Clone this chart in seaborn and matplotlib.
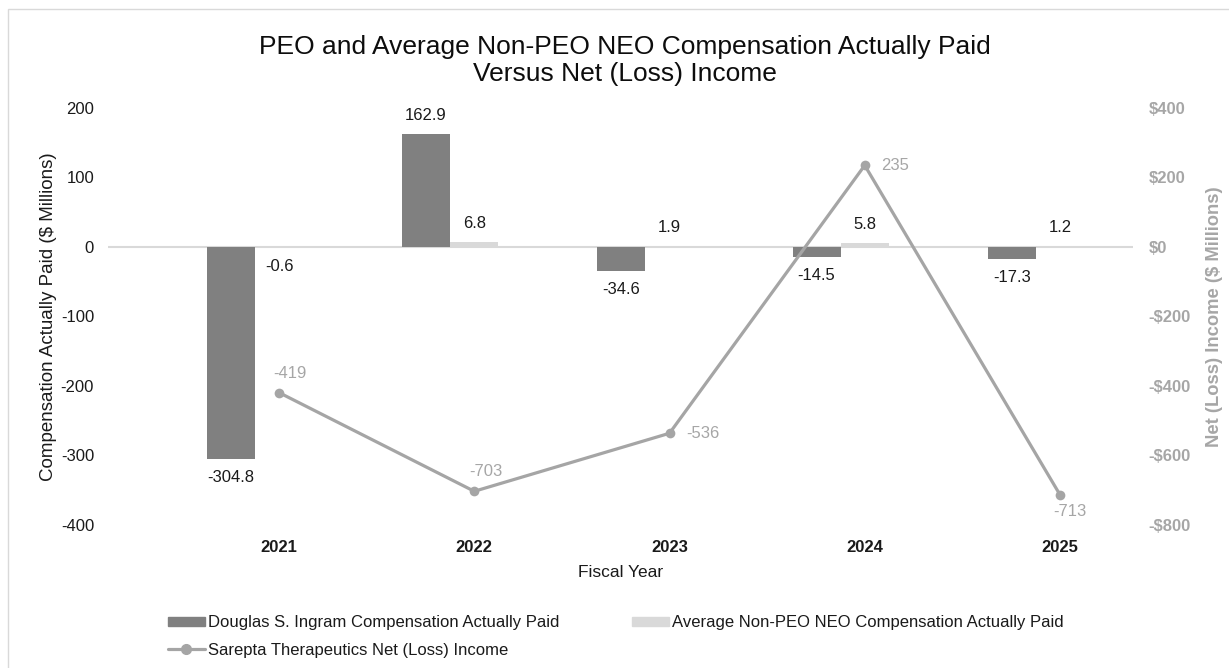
import numpy as np
import pandas as pd
import matplotlib
matplotlib.use('Agg')
import matplotlib.pyplot as plt
from matplotlib.patches import Patch, Rectangle
from matplotlib.lines import Line2D
import seaborn as sns

# data
years = ['2021', '2022', '2023', '2024', '2025']
peo_cap = [-304.8, 162.9, -34.6, -14.5, -17.3]
neo_cap = [-0.6, 6.8, 1.9, 5.8, 1.2]
net_income = [-419, -703, -536, 235, -713]
income_label_pos = ['above', 'above', 'right', 'right', 'below']

peo_name = 'Douglas S. Ingram Compensation Actually Paid'
neo_name = 'Average Non-PEO NEO Compensation Actually Paid'
line_name = 'Sarepta Therapeutics Net (Loss) Income'

dark = '#808080'
light = '#D9D9D9'
line_col = '#A5A5A5'
label_gray = '#A6A6A6'

sns.set_theme(style='white')
plt.rcParams['font.family'] = ['Liberation Sans', 'DejaVu Sans']
plt.rcParams['axes.unicode_minus'] = False

df = pd.DataFrame({
    'year': years * 2,
    'series': [peo_name] * len(years) + [neo_name] * len(years),
    'value': peo_cap + neo_cap,
})

fig = plt.figure(figsize=(12.29, 6.68), dpi=100)
ax = fig.add_axes([108 / 1229, 1 - 525 / 668, (1133 - 108) / 1229, (525 - 108) / 668])

# third hue slot is the line series' place in the cluster (Excel layout)
sns.barplot(data=df, x='year', y='value', hue='series',
            hue_order=[peo_name, neo_name, line_name],
            palette={peo_name: dark, neo_name: light, line_name: line_col},
            width=0.74, linewidth=0, legend=False, ax=ax, zorder=2)

ax.axhline(0, color=light, lw=1.5, zorder=1)

for cont in ax.containers:
    ax.bar_label(cont, fmt='%.1f', padding=8, fontsize=12, color='#1a1a1a')

ax.set_ylim(-400, 200)
ax.set_yticks(np.arange(-400, 201, 100))
ax.set_xlim(-0.876, 4.374)
ax.tick_params(axis='both', length=0, labelsize=12, colors='#1a1a1a')
ax.tick_params(axis='y', pad=10)
ax.tick_params(axis='x', pad=11)
for t in ax.get_xticklabels():
    t.set_fontweight('bold')
ax.set_xlabel('Fiscal Year', fontsize=12.5, color='#1a1a1a', labelpad=7)
ax.set_ylabel('Compensation Actually Paid ($ Millions)', fontsize=13.5, color='#1a1a1a', labelpad=3)
sns.despine(ax=ax, left=True, bottom=True)

ax2 = ax.twinx()
sns.lineplot(x=np.arange(len(years)), y=net_income, ax=ax2, color=line_col,
             lw=2.3, marker='o', markersize=7, markeredgewidth=0, zorder=3)
ax2.set_ylim(-800, 400)
ax2.set_yticks(np.arange(-800, 401, 200))
ax2.set_yticklabels([f'-${abs(v):,}' if v < 0 else f'${v:,}' for v in range(-800, 401, 200)],
                    fontweight='bold', color=label_gray, fontsize=12)
ax2.tick_params(axis='y', length=0, pad=11)
ax2.set_ylabel('Net (Loss) Income ($ Millions)', fontsize=13.2, fontweight='bold',
               color=label_gray, labelpad=11)
for s in ax2.spines.values():
    s.set_visible(False)
ax2.set_xlim(-0.876, 4.374)

offsets = {'above': ((8, 14), 'center', 'center'),
           'right': ((12, 0), 'left', 'center'),
           'below': ((7, -12), 'center', 'center')}
for i, (v, pos) in enumerate(zip(net_income, income_label_pos)):
    off, ha, va = offsets[pos]
    ax2.annotate(f'{v}', (i, v), xytext=off, textcoords='offset points',
                 ha=ha, va=va, fontsize=12, color=label_gray)

fig.text(625 / 1229, 1 - 35 / 668,
         'PEO and Average Non-PEO NEO Compensation Actually Paid\nVersus Net (Loss) Income',
         ha='center', va='top', fontsize=19, color='#0d0d0d', linespacing=1.15)

handles = [Patch(color=dark), Line2D([], [], color=line_col, lw=2.3, marker='o', markersize=7),
           Patch(color=light)]
fig.legend(handles, [peo_name, line_name, neo_name], ncol=2, frameon=False,
           loc='upper left', bbox_to_anchor=(153 / 1229, 1 - 600 / 668),
           fontsize=12, handlelength=2.2, handleheight=0.45, handletextpad=0.2,
           columnspacing=4.35, labelspacing=0.75, labelcolor='#1a1a1a')

fig.add_artist(Rectangle((8 / 1229, -0.05), 1.1, 1.05 - 9 / 668, transform=fig.transFigure,
                         fill=False, edgecolor='#D9D9D9', lw=1))

fig.savefig('out.png', dpi=100, facecolor='white')
